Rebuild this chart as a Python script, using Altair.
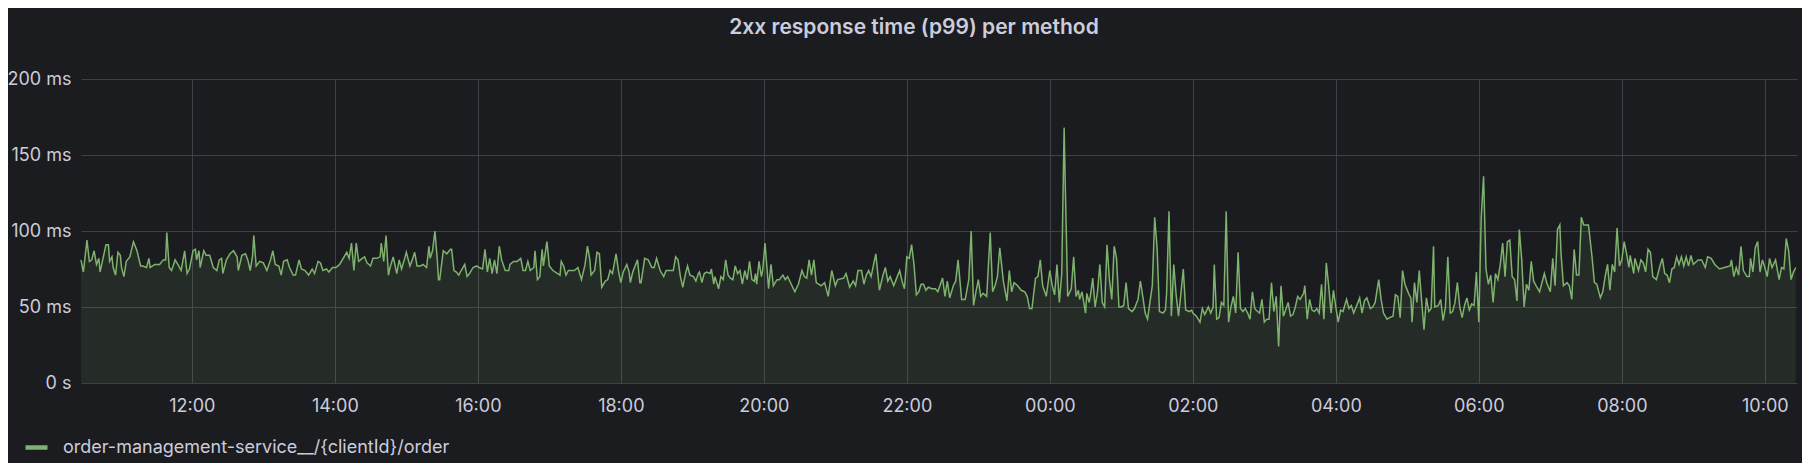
import altair as alt
import pandas as pd

TITLE = "2xx response time (p99) per method"
SERIES = "order-management-service__/{clientId}/order"
START = "2024-01-15 10:27"
END = "2024-01-16 10:27"

x_tick_labels = ["12:00", "14:00", "16:00", "18:00", "20:00", "22:00",
                 "00:00", "02:00", "04:00", "06:00", "08:00", "10:00"]
y_ticks = [0, 50, 100, 150, 200]

# minutes since START, p99 values in ms
t_a = [0, 2, 5, 7, 9, 11, 13, 15, 16, 19,
       21, 23, 24, 26, 27, 29, 31, 33, 34, 36,
       38, 41, 44, 47, 50, 52, 55, 57, 58, 62,
       66, 69, 71, 72, 74, 76, 79, 82, 84, 87,
       89, 91, 94, 96, 97, 99, 100, 103, 105, 108,
       111, 114, 116, 118, 119, 122, 125, 128, 131, 132,
       135, 138, 140, 142, 144, 145, 147, 150, 153, 156,
       159, 161, 163, 166, 168, 170, 173, 175, 178, 180,
       183, 185, 188, 191, 194, 196, 199, 201, 203, 206,
       208, 211, 214, 217, 220, 223, 225, 227, 229, 231,
       233, 236, 238, 240, 243, 245, 248, 251, 252, 254,
       256, 258, 259, 262, 265, 267, 269, 272, 273, 276,
       278, 280, 282, 285, 287, 290, 292, 293, 295, 297,
       299, 300, 301, 304, 307, 310, 311, 313, 315, 317,
       319, 322, 324, 326, 329, 332, 334, 337, 339, 341,
       343, 345, 347, 349, 351, 353, 356, 359, 360]
ms_a = [81, 73, 94, 80, 81, 87, 78, 82, 73, 84,
        91, 91, 80, 83, 76, 71, 86, 84, 76, 70,
        80, 83, 93, 87, 77, 77, 76, 82, 76, 78,
        78, 81, 81, 99, 76, 74, 81, 77, 74, 87,
        72, 75, 87, 88, 81, 87, 76, 87, 84, 84,
        76, 74, 81, 82, 72, 81, 85, 87, 83, 74,
        84, 85, 81, 74, 84, 97, 77, 80, 79, 74,
        81, 87, 78, 77, 71, 80, 81, 76, 71, 71,
        81, 75, 74, 71, 75, 72, 80, 79, 74, 75,
        73, 76, 76, 78, 82, 86, 82, 92, 74, 92,
        80, 82, 83, 79, 77, 82, 82, 83, 92, 80,
        97, 71, 75, 83, 72, 81, 75, 83, 86, 77,
        81, 86, 77, 77, 78, 76, 90, 82, 87, 100,
        81, 68, 68, 87, 85, 88, 88, 74, 73, 71,
        74, 78, 70, 72, 76, 77, 76, 75, 88, 73,
        82, 72, 81, 72, 90, 81, 74, 74, 78]

t_b = [363, 366, 369, 371, 373, 375, 377, 380, 381, 383,
       385, 387, 388, 391, 393, 396, 400, 402, 403, 405,
       407, 409, 412, 414, 417, 420, 423, 425, 427, 428,
       431, 433, 435, 437, 440, 442, 444, 446, 449, 451,
       453, 455, 458, 460, 461, 463, 467, 469, 470, 473,
       476, 479, 481, 483, 486, 489, 491, 494, 497, 499,
       501, 503, 505, 507, 509, 511, 514, 516, 518, 519,
       521, 523, 525, 528, 529, 531, 532, 535, 537, 539,
       541, 543, 545, 547, 549, 551, 553, 555, 557, 559,
       561, 563, 565, 566, 567, 569, 571, 572, 574, 577,
       579, 581, 584, 586, 589, 591, 593, 596, 599, 602,
       605, 607, 609, 611, 613, 615, 617, 619, 621, 624,
       627, 630, 633, 635, 640, 642, 645, 648, 650, 652,
       655, 657, 659, 661, 663, 667, 670, 673, 675, 677,
       679, 682, 684, 687, 689, 691, 693, 695, 697, 699,
       701, 703, 705, 707, 709, 711, 714, 717, 719, 723,
       725, 727, 729]
ms_b = [80, 80, 82, 74, 74, 80, 74, 76, 87, 68,
        70, 88, 77, 93, 77, 74, 72, 71, 80, 77,
        71, 74, 74, 74, 76, 68, 78, 90, 81, 71,
        74, 86, 85, 63, 67, 68, 74, 72, 85, 74,
        66, 73, 78, 73, 66, 73, 81, 66, 66, 82,
        81, 76, 76, 82, 74, 70, 74, 74, 74, 83,
        81, 70, 63, 71, 77, 71, 70, 67, 72, 73,
        66, 72, 73, 72, 75, 65, 70, 62, 70, 68,
        81, 71, 69, 68, 77, 72, 74, 65, 74, 68,
        80, 68, 67, 72, 65, 80, 70, 74, 92, 62,
        78, 64, 68, 68, 71, 68, 70, 65, 60, 65,
        74, 70, 69, 81, 71, 81, 66, 65, 64, 66,
        57, 74, 64, 68, 69, 72, 63, 67, 64, 74,
        74, 65, 71, 74, 70, 85, 61, 71, 76, 67,
        70, 64, 68, 74, 67, 62, 83, 82, 91, 78,
        58, 60, 65, 65, 61, 63, 62, 62, 60, 69,
        57, 67, 56]

t_c = [732, 734, 736, 739, 742, 745, 747, 749, 751, 753,
       755, 757, 760, 763, 765, 767, 769, 771, 774, 777,
       779, 781, 783, 786, 789, 792, 794, 796, 798, 801,
       803, 805, 807, 810, 813, 815, 817, 819, 821, 823,
       825, 826, 828, 831, 833, 835, 837, 838, 840, 843,
       844, 846, 847, 849, 851, 853, 855, 857, 859, 861,
       863, 865, 867, 869, 871, 873, 875, 877, 879, 882,
       884, 887, 889, 891, 893, 895, 897, 899, 901, 903,
       905, 908, 910, 911, 913, 915, 917, 919, 921, 923,
       925, 927, 930, 932, 933, 936, 939, 941, 943, 946,
       948, 950, 951, 953, 955, 957, 959, 961, 963, 965,
       967, 969, 971, 973, 975, 977, 979, 981, 983, 985,
       986, 989, 991, 993, 995, 997, 999, 1001, 1003, 1005,
       1007, 1009, 1010, 1013, 1015, 1017, 1019, 1021, 1023, 1026,
       1027, 1029, 1031, 1033, 1035, 1037, 1039, 1041, 1043, 1045,
       1047, 1049, 1051, 1053, 1055, 1057, 1059, 1062, 1064, 1066,
       1068, 1070, 1073, 1075, 1077, 1079, 1082, 1084, 1086, 1089,
       1091, 1093, 1096, 1098]
ms_c = [64, 67, 81, 55, 55, 68, 100, 51, 60, 68,
        57, 59, 57, 99, 60, 64, 70, 89, 67, 54,
        74, 60, 66, 64, 61, 60, 57, 49, 49, 69,
        70, 81, 64, 57, 74, 64, 58, 78, 53, 72,
        168, 129, 57, 62, 83, 57, 61, 55, 60, 46,
        59, 53, 57, 69, 50, 60, 78, 53, 50, 91,
        68, 55, 90, 82, 50, 50, 51, 66, 49, 47,
        49, 55, 67, 57, 46, 42, 53, 64, 109, 89,
        47, 46, 48, 59, 113, 44, 78, 58, 44, 59,
        75, 48, 47, 48, 46, 44, 40, 49, 45, 50,
        46, 50, 78, 42, 43, 53, 51, 113, 40, 50,
        57, 46, 86, 49, 47, 49, 46, 42, 60, 49,
        48, 46, 55, 40, 42, 42, 66, 47, 57, 24,
        64, 44, 46, 53, 44, 45, 50, 57, 55, 59,
        64, 42, 55, 48, 47, 49, 46, 65, 42, 79,
        64, 46, 61, 50, 40, 48, 47, 55, 49, 51,
        46, 50, 56, 46, 54, 56, 49, 50, 53, 68,
        55, 46, 42, 43]

t_d = [1101, 1103, 1105, 1107, 1109, 1111, 1114, 1116, 1117, 1119,
       1121, 1123, 1125, 1127, 1129, 1131, 1133, 1135, 1136, 1139,
       1141, 1143, 1145, 1147, 1149, 1151, 1153, 1155, 1157, 1159,
       1161, 1163, 1165, 1167, 1169, 1171, 1173, 1175, 1177, 1179,
       1181, 1183, 1185, 1187, 1189, 1191, 1193, 1195, 1197, 1199,
       1201, 1203, 1205, 1207, 1209, 1211, 1213, 1215, 1217, 1219,
       1221, 1224, 1226, 1228, 1230, 1233, 1235, 1237, 1239, 1241,
       1242, 1244, 1247, 1249, 1251, 1253, 1255, 1257, 1259, 1261,
       1263, 1265, 1268, 1270, 1272, 1275, 1277, 1279, 1281, 1283,
       1285, 1287, 1289, 1291, 1293, 1295, 1297, 1299, 1300, 1303,
       1304, 1307, 1309, 1311, 1313, 1315, 1317, 1319, 1322, 1325,
       1327, 1329, 1331, 1333, 1335, 1337, 1339, 1341, 1343, 1345,
       1347, 1349, 1351, 1353, 1357, 1360, 1363, 1365, 1368, 1371,
       1375, 1379, 1384, 1385, 1387, 1389, 1391, 1393, 1395, 1398,
       1400, 1401, 1403, 1405, 1407, 1409, 1411, 1413, 1415, 1417,
       1419, 1422, 1425, 1427, 1429, 1431, 1433, 1435, 1437, 1439]
ms_d = [44, 58, 57, 43, 74, 65, 59, 56, 40, 66,
        53, 74, 54, 35, 56, 47, 49, 90, 50, 51,
        55, 41, 50, 83, 46, 47, 53, 66, 50, 43,
        51, 56, 48, 52, 51, 73, 40, 109, 136, 75,
        65, 71, 53, 72, 68, 78, 92, 70, 93, 94,
        70, 68, 54, 101, 81, 50, 65, 61, 80, 67,
        64, 60, 66, 72, 66, 60, 82, 64, 101, 104,
        85, 64, 66, 64, 55, 88, 71, 71, 109, 104,
        104, 104, 83, 66, 65, 56, 60, 70, 78, 61,
        78, 73, 102, 77, 81, 93, 85, 76, 84, 72,
        82, 74, 81, 79, 73, 88, 86, 70, 68, 77,
        82, 72, 71, 66, 75, 76, 83, 78, 83, 77,
        83, 77, 84, 78, 81, 81, 76, 83, 82, 78,
        75, 76, 77, 81, 70, 76, 71, 90, 74, 70,
        70, 82, 73, 89, 93, 73, 81, 76, 70, 82,
        76, 81, 68, 76, 75, 95, 87, 68, 73, 76]

# ---- build table ----
minutes, values = [], []
for ts, vs in ((t_a, ms_a), (t_b, ms_b), (t_c, ms_c), (t_d, ms_d)):
    n = min(len(ts), len(vs))
    minutes += ts[:n]
    values += vs[:n]

start = pd.Timestamp(START)
end = pd.Timestamp(END)
df = pd.DataFrame({
    "time": start + pd.to_timedelta(minutes, unit="m"),
    "p99": values,
    "series": SERIES,
})


def dt(ts):
    return alt.DateTime(year=ts.year, month=ts.month, date=ts.day,
                        hours=ts.hour, minutes=ts.minute)


tick_times = []
for lab in x_tick_labels:
    h, m = (int(p) for p in lab.split(":"))
    cand = start.normalize() + pd.Timedelta(hours=h, minutes=m)
    if cand < start:
        cand += pd.Timedelta(days=1)
    tick_times.append(dt(cand))

BG = "#1b1c20"
TXT = "#ccccdc"
GRID = "#404146"
GREEN = "#7eb26d"
FONT = "Inter"

x_enc = alt.X(
    "time:T",
    scale=alt.Scale(domain=[dt(start), dt(end)], nice=False),
    axis=alt.Axis(values=tick_times, format="%H:%M", title=None,
                  labelPadding=14, grid=True),
)
y_enc = alt.Y(
    "p99:Q",
    scale=alt.Scale(domain=[y_ticks[0], y_ticks[-1]], nice=False),
    axis=alt.Axis(values=y_ticks, title=None, labelPadding=10, grid=True,
                  labelExpr="datum.value == 0 ? '0 s' : datum.value + ' ms'"),
)

base = alt.Chart(df)
area = base.mark_area(color=GREEN, fillOpacity=0.1, interpolate="linear").encode(
    x=x_enc, y=y_enc
)
line = base.mark_line(strokeWidth=1.5, interpolate="linear").encode(
    x=x_enc,
    y=y_enc,
    color=alt.Color(
        "series:N",
        scale=alt.Scale(range=[GREEN]),
        legend=alt.Legend(
            title=None, orient="none", legendX=-58, legendY=355,
            symbolType="stroke", symbolStrokeWidth=4.5, symbolSize=484,
            labelFont=FONT, labelFontSize=18, labelColor=TXT,
            labelOffset=13, labelLimit=0, padding=0,
        ),
    ),
)

chart = (
    alt.layer(area, line)
    .properties(
        width=1716,
        height=304,
        autosize=alt.AutoSizeParams(type="none"),
        padding={"left": 73, "top": 71, "right": 5, "bottom": 80},
        background=BG,
        title=alt.TitleParams(
            TITLE, font=FONT, fontSize=21, fontWeight=600, color=TXT,
            anchor="middle", frame="group", dx=-25, offset=32,
        ),
    )
    .configure_view(stroke=None)
    .configure_axis(
        labelFont=FONT, labelFontSize=18, labelColor=TXT,
        domain=False, ticks=False, gridColor=GRID, gridWidth=1, gridOpacity=1,
    )
)

chart.save("out.html", embed_options={"renderer": "svg", "actions": False})
